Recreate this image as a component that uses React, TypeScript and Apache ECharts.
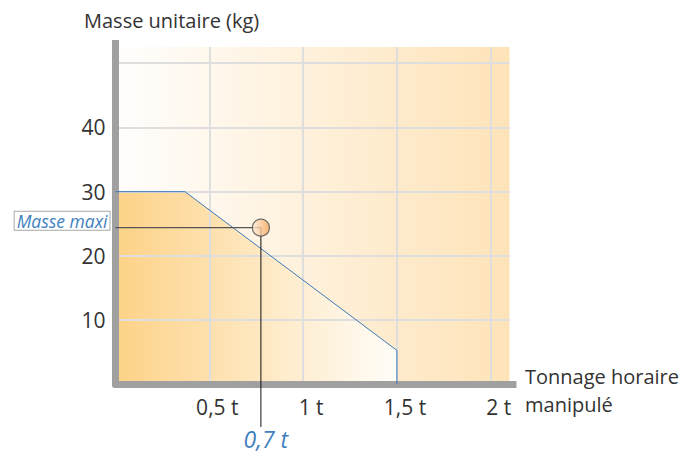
import React, { useEffect, useRef } from "react";
import * as echarts from "echarts";

// Limit curve (tonnage horaire in t, masse unitaire in kg)
const limitX = [0, 0.37, 1.5, 1.5];
const limitY = [30, 30, 5.3, 0];
// Operating point
const pointX = 0.775;
const pointY = 24.4;
const guideBottomY = -6.6;
// Tick labels
const xTickValues = [0.5, 1, 1.5, 2];
const xTickLabels = ["0,5 t", "1 t", "1,5 t", "2 t"];
const yTickValues = [10, 20, 30, 40];
const yTickLabels = ["10", "20", "30", "40"];
const pointXLabel = "0,7 t";
const pointYLabel = "Masse maxi";
const yTitle = "Masse unitaire (kg)";
const xTitle = "Tonnage horaire\nmanipulé";

const FONT = "'Open Sans', 'Noto Sans', sans-serif";

export default function App() {
  const ref = useRef<HTMLDivElement>(null);
  useEffect(() => {
    if (!ref.current) return;
    const chart = echarts.init(ref.current, undefined, { renderer: "svg" });
    const limitData = limitX.map((x, i) => [x, limitY[i]]);
    const option: any = {
      animation: false,
      backgroundColor: "#ffffff",
      textStyle: { fontFamily: FONT },
      grid: {
        left: 115.5,
        top: 47,
        right: 171.5,
        bottom: 69.5,
        show: true,
        borderWidth: 0,
        outerBoundsMode: "none",
        backgroundColor: new echarts.graphic.LinearGradient(0, 0, 1, 0, [
          { offset: 0, color: "#fffefd" },
          { offset: 1, color: "#fee3b8" },
        ]),
      },
      xAxis: {
        type: "value",
        min: 0,
        max: 2.1,
        interval: 0.5,
        z: 3,
        axisLine: {
          show: true,
          symbol: ["none", "rect"],
          symbolSize: [7, 14],
          lineStyle: { color: "#a0a0a0", width: 7 },
        },
        axisTick: { show: false },
        splitLine: {
          show: true,
          showMinLine: false,
          showMaxLine: false,
          lineStyle: { color: "#dedede", width: 2 },
        },
        axisLabel: {
          margin: 12,
          fontSize: 21,
          color: "#333333",
          fontFamily: FONT,
          padding: [0, 0, 0, 16],
          showMaxLabel: false,
          formatter: (v: number) => {
            const i = xTickValues.findIndex((t) => Math.abs(t - v) < 1e-6);
            return i >= 0 ? xTickLabels[i] : "";
          },
        },
      },
      yAxis: {
        type: "value",
        min: 0,
        max: 52.5,
        interval: 10,
        z: 3,
        axisLine: {
          show: true,
          symbol: ["none", "rect"],
          symbolSize: [7, 14],
          lineStyle: { color: "#a0a0a0", width: 7 },
        },
        axisTick: { show: false },
        splitLine: {
          show: true,
          showMinLine: false,
          showMaxLine: false,
          lineStyle: { color: "#dedede", width: 2 },
        },
        axisLabel: {
          margin: 10,
          fontSize: 21,
          color: "#333333",
          fontFamily: FONT,
          padding: [0, 0, 14, 0],
          formatter: (v: number) => {
            const i = yTickValues.findIndex((t) => Math.abs(t - v) < 1e-6);
            return i >= 0 ? yTickLabels[i] : "";
          },
        },
      },
      graphic: [
        {
          type: "text",
          left: 84,
          top: 10,
          style: {
            text: yTitle,
            fontSize: 20,
            fontFamily: FONT,
            fill: "#333333",
          },
        },
        {
          type: "text",
          left: 525,
          top: 362,
          style: {
            text: xTitle,
            fontSize: 20,
            lineHeight: 28,
            fontFamily: FONT,
            fill: "#333333",
          },
        },
      ],
      series: [
        {
          type: "line",
          data: limitData,
          z: 2,
          symbol: "none",
          lineStyle: { width: 0 },
          areaStyle: {
            opacity: 1,
            color: new echarts.graphic.LinearGradient(0, 0, 1, 0, [
              { offset: 0, color: "#fdd287" },
              { offset: 1, color: "#fffdf9" },
            ]),
          },
        },
        {
          type: "line",
          data: limitData,
          z: 5,
          symbol: "none",
          lineStyle: { color: "#3d7ab8", width: 1 },
        },
        {
          type: "line",
          data: [
            {
              value: [0, pointY],
              label: {
                show: true,
                position: "left",
                distance: 6,
                offset: [0, -7],
                formatter: pointYLabel,
                fontStyle: "italic",
                fontSize: 17.5,
                fontFamily: FONT,
                color: "#3f7fc0",
                backgroundColor: "#ffffff",
                borderColor: "#a8a8a8",
                borderWidth: 1,
                padding: [0, 2, 0, 2],
              },
            },
            [pointX, pointY],
          ],
          z: 6,
          symbol: "circle",
          symbolSize: 0,
          lineStyle: { color: "#555555", width: 1.2 },
        },
        {
          type: "line",
          clip: false,
          data: [
            [pointX, pointY],
            {
              value: [pointX, guideBottomY],
              label: {
                show: true,
                position: "bottom",
                distance: 1,
                offset: [5, 0],
                formatter: pointXLabel,
                fontStyle: "italic",
                fontSize: 23,
                lineHeight: 22,
                fontFamily: FONT,
                color: "#3f7fc0",
              },
            },
          ],
          z: 6,
          symbol: "circle",
          symbolSize: 0,
          lineStyle: { color: "#111111", width: 1 },
        },
        {
          type: "scatter",
          data: [[pointX, pointY]],
          z: 7,
          symbol: "circle",
          symbolSize: 17,
          itemStyle: {
            color: new echarts.graphic.LinearGradient(0, 0, 1, 0, [
              { offset: 0, color: "#fdeedd" },
              { offset: 1, color: "#f4a458" },
            ]),
            borderColor: "#4a4a4a",
            borderWidth: 1.2,
          },
        },
      ],
    };
    chart.setOption(option);
    return () => chart.dispose();
  }, []);
  return (
    <div
      ref={ref}
      style={{ position: "absolute", left: 0, top: 0, width: 681, height: 454 }}
    />
  );
}
